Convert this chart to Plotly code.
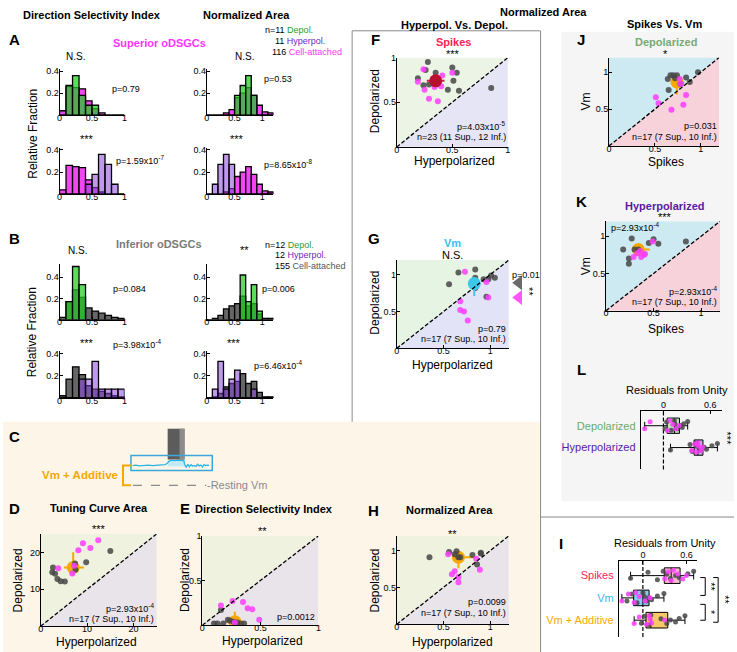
import plotly.graph_objects as go

W, H = 737, 652
FONT = "Liberation Sans, Arial, Helvetica, sans-serif"

# ---------------- DATA ----------------
dsi_bins = [0.05, 0.15, 0.25, 0.35, 0.45, 0.55, 0.65, 0.75, 0.85, 0.95]
na_bins = [0.05, 0.15, 0.25, 0.35, 0.45, 0.55, 0.65, 0.75, 0.85, 0.95, 1.05, 1.15]

# Superior oDSGCs (A)
a_dsi_cell = [0.04, 0.26, 0.25, 0.24, 0.13, 0.06, 0.02, 0, 0, 0]
a_dsi_depol = [0, 0.27, 0.36, 0.18, 0.09, 0.09, 0, 0, 0, 0]
a_dsi_hyper = [0, 0, 0, 0, 0.09, 0.18, 0.36, 0.27, 0.09, 0]
a_na_cell = [0, 0, 0, 0.02, 0.05, 0.16, 0.20, 0.25, 0.18, 0.09, 0.03, 0.02]
a_na_depol = [0, 0, 0, 0, 0, 0.18, 0.27, 0.36, 0.18, 0, 0, 0]
a_na_hyper = [0, 0.09, 0.27, 0.36, 0.27, 0, 0, 0, 0, 0, 0, 0]
# Inferior oDSGCs (B)
b_dsi_cell = [0.02, 0.17, 0.28, 0.21, 0.11, 0.08, 0.06, 0.04, 0.02, 0.01]
b_dsi_depol = [0, 0.17, 0.50, 0.33, 0, 0, 0, 0, 0, 0]
b_dsi_hyper = [0, 0, 0, 0.17, 0.17, 0.33, 0.08, 0.08, 0.08, 0.08]
b_na_cell = [0, 0.01, 0.04, 0.10, 0.13, 0.15, 0.22, 0.13, 0.15, 0.05, 0.01, 0.01]
b_na_depol = [0, 0, 0, 0, 0, 0, 0.42, 0.17, 0.33, 0.08, 0, 0]
b_na_hyper = [0, 0.08, 0.33, 0.08, 0.17, 0.25, 0, 0, 0.08, 0, 0, 0]
# population means (arrow heads above histograms)
a_dsi_top_means = [0.27, 0.23]      # cell-attached, depol
a_dsi_bot_means = [0.25, 0.65]      # cell-attached, hyperpol
a_na_top_means = [0.70, 0.71]
a_na_bot_means = [0.72, 0.38]
b_dsi_top_means = [0.33, 0.28]
b_dsi_bot_means = [0.32, 0.54]
b_na_top_means = [0.62, 0.74]
b_na_bot_means = [0.62, 0.40]

# D  tuning curve area
d_inf_x = [2.65, 2.5, 3.1, 3.6, 4.3, 5.2, 7.4, 7.5, 9.8, 15.0]
d_inf_y = [15.9, 14.6, 14.2, 12.8, 12.2, 12.1, 17.0, 15.3, 17.3, 20.4]
d_sup_x = [3.8, 6.8, 7.2, 8.1, 9.1, 10.7, 12.4]
d_sup_y = [15.7, 14.3, 16.4, 20.6, 22.5, 21.2, 23.3]
d_mean = [7.0, 15.9]
d_err = [2.0, 2.3, 2.2, 4.1]   # x-, x+, y-, y+
# E  DSI
e_inf_x = [0.10, 0.13, 0.16, 0.22, 0.24, 0.36, 0.33, 0.18, 0.30, 0.27]
e_inf_y = [0.02, 0.02, 0.17, 0.06, 0.05, 0.02, 0.02, 0.02, 0.03, 0.04]
e_sup_x = [0.16, 0.26, 0.35, 0.39, 0.43, 0.49, 0.28]
e_sup_y = [0.22, 0.27, 0.26, 0.19, 0.18, 0.06, 0.03]
e_mean = [0.28, 0.04]
e_err = [0.08, 0.08, 0.03, 0.11]
# F  spikes
f_inf_x = [0.28, 0.26, 0.19, 0.35, 0.50, 0.54, 0.51, 0.46, 0.56, 0.24, 0.29, 0.85]
f_inf_y = [0.95, 0.86, 0.77, 0.83, 0.89, 0.83, 0.74, 0.64, 0.63, 0.69, 0.70, 0.66]
f_sup_x = [0.24, 0.19, 0.25, 0.29, 0.37, 0.34, 0.40, 0.41, 0.50, 0.33, 0.38]
f_sup_y = [0.87, 0.73, 0.64, 0.54, 0.51, 0.67, 0.68, 0.80, 0.83, 0.76, 0.72]
f_mean = [0.35, 0.74]
f_err = [0.08, 0.08, 0.04, 0.04]
# G  Vm
g_inf_x = [0.56, 0.66, 0.84, 0.84, 0.84, 0.98, 1.01, 1.05, 0.96, 0.93]
g_inf_y = [0.87, 1.03, 1.07, 0.96, 0.82, 0.94, 0.99, 0.96, 0.70, 0.94]
g_sup_x = [0.73, 0.68, 0.68, 0.72, 0.76, 0.96, 0.98]
g_sup_y = [1.04, 0.64, 0.52, 0.50, 0.38, 0.90, 0.69]
g_mean = [0.83, 0.88]
g_err = [0.06, 0.06, 0.17, 0.08]
g_side_y = [0.89, 0.69]   # inferior, superior mean Vm ratio (side arrows)
# H  normalized area (Vm + additive)
h_inf_x = [0.35, 0.56, 0.64, 0.62, 0.68, 0.81, 0.90, 0.86, 0.90, 0.66]
h_inf_y = [0.91, 0.98, 0.99, 0.95, 0.91, 0.94, 0.96, 0.81, 0.97, 0.91]
h_sup_x = [0.55, 0.59, 0.62, 0.66, 0.66, 0.85, 0.89]
h_sup_y = [0.95, 0.68, 0.72, 0.64, 0.57, 0.89, 0.74]
h_mean = [0.66, 0.91]
h_err = [0.03, 0.18, 0.15, 0.03]
# J  depolarized spikes vs Vm
j_inf_x = [0.64, 0.67, 0.70, 0.74, 0.84, 0.88, 0.97, 0.65, 0.78, 0.72]
j_inf_y = [0.91, 0.96, 0.96, 0.96, 0.93, 0.87, 1.00, 0.76, 0.84, 0.92]
j_sup_x = [0.51, 0.54, 0.68, 0.81, 0.84, 0.77, 0.78]
j_sup_y = [0.66, 0.58, 0.49, 0.56, 0.69, 0.91, 0.84]
j_mean = [0.74, 0.87]
j_err = [0.04, 0.08, 0.17, 0.04]
# K  hyperpolarized spikes vs Vm
k_inf_x = [0.18, 0.27, 0.34, 0.24, 0.24, 0.45, 0.50, 0.55, 0.84, 0.30]
k_inf_y = [0.82, 0.97, 0.82, 0.70, 0.63, 0.91, 0.96, 0.90, 0.93, 0.82]
k_sup_x = [0.29, 0.37, 0.41, 0.33, 0.49, 0.36, 0.40]
k_sup_y = [0.72, 0.72, 0.76, 0.77, 0.93, 0.80, 0.75]
k_mean = [0.34, 0.82]
k_err = [0.05, 0.12, 0.05, 0.05]

# L residuals
l_cats = ["Depolarized", "Hyperpolarized"]
l_sup = [[-0.24, -0.17, 0.05, 0.12, 0.16, 0.20, 0.08],
         [0.36, 0.40, 0.42, 0.45, 0.48, 0.44, 0.50]]
l_inf = [[0.04, 0.10, 0.14, 0.18, 0.22, 0.26, 0.31, 0.15, 0.02, 0.24],
         [0.09, 0.34, 0.37, 0.41, 0.46, 0.52, 0.55, 0.62, 0.69, 0.43]]
# I residuals
i_cats = ["Spikes", "Vm", "Vm + Additive"]
i_sup = [[0.30, 0.35, 0.39, 0.42, 0.48, 0.55, 0.60],
         [-0.29, -0.20, -0.12, -0.05, 0.03, 0.10, -0.10],
         [-0.12, -0.05, 0.05, 0.10, 0.09, 0.30, 0.12]]
i_inf = [[-0.17, 0.07, 0.20, 0.28, 0.33, 0.38, 0.45, 0.50, 0.62, 0.70],
         [-0.22, -0.15, -0.08, 0.00, 0.02, 0.05, 0.08, 0.12, 0.20, 0.29],
         [-0.02, 0.02, 0.08, 0.11, 0.25, 0.33, 0.38, 0.45, 0.50, 0.58]]

# C schematic membrane trace
c_t = [2, 6, 10, 14, 18, 22, 26, 30, 34, 38, 42, 45, 47, 50, 54, 58, 62, 65,
       66, 68, 70, 72, 74, 76, 78, 80, 82, 84, 86, 88, 90, 92, 94, 96]
c_v = [1.3, 1.4, 1.25, 1.35, 1.3, 1.4, 1.3, 1.35, 1.25, 1.4, 1.5, 1.9, 2.3, 2.5, 2.4, 2.5, 2.45, 2.4,
       1.6, 0.9, 1.6, 1.0, 1.5, 1.2, 1.3, 1.1, 1.6, 1.2, 1.4, 1.0, 1.5, 1.3, 1.4, 1.35]

# ---------------- STYLE ----------------
MAG = 'rgba(240,50,240,0.9)'
GRY = 'rgba(85,85,85,0.9)'
GRN = 'rgba(30,205,30,0.72)'
PUR = 'rgba(140,70,220,0.55)'
PT_GRAY = 'rgba(70,70,70,0.85)'
PT_MAG = 'rgba(255,60,255,0.85)'
ORANGE = '#f6a800'
DIAG_DASH = '4px,2px'


def X(p):
    return p / W


def Y(p):
    return 1 - p / H


fig = go.Figure()
layout = dict(width=W, height=H, margin=dict(l=0, r=0, t=0, b=0), paper_bgcolor='white',
              plot_bgcolor='rgba(0,0,0,0)', showlegend=False, barmode='overlay', boxmode='overlay',
              font=dict(family=FONT, size=10, color='black'))
shapes = []
annotations = []
nax = [0]


def axes(x0, x1, y0, y1, xr, yr, xtv=None, xtt=None, ytv=None, ytt=None, visible=True,
         xside='bottom', ycat=None, tfs=9, ytfs=9):
    nax[0] += 1
    n = nax[0]
    s = '' if n == 1 else str(n)
    common = dict(showgrid=False, zeroline=False, showline=visible, linecolor='black', linewidth=1,
                  ticks='inside' if visible else '', ticklen=3, tickcolor='black', visible=visible,
                  fixedrange=True)
    xa = dict(domain=[X(x0), X(x1)], range=xr, anchor='y' + s, side=xside,
              tickfont=dict(size=tfs, family=FONT),
              ticklabelstandoff=(-6 if xside == 'bottom' else -2), **common)
    if xtv is not None:
        xa.update(tickmode='array', tickvals=xtv, ticktext=xtt)
    ya = dict(domain=[Y(y1), Y(y0)], range=yr, anchor='x' + s, tickfont=dict(size=ytfs, family=FONT),
              ticklabelstandoff=-2, **common)
    if ycat is not None:
        ya.update(type='category', categoryorder='array', categoryarray=ycat, ticks='', ticklabelstandoff=2)
    if ytv is not None:
        ya.update(tickmode='array', tickvals=ytv, ticktext=ytt)
    layout['xaxis' + s] = xa
    layout['yaxis' + s] = ya
    return 'x' + s, 'y' + s


def txt(s, x, y, size=9, color='black', bold=False, xa='center', angle=0, ya='middle'):
    if bold:
        s = '<b>' + s + '</b>'
    annotations.append(dict(text=s, x=X(x), y=Y(y), xref='paper', yref='paper', showarrow=False,
                            xanchor=xa, yanchor=ya, textangle=angle, borderpad=0,
                            font=dict(size=size, color=color, family=FONT)))


def rect(x0, y0, x1, y1, fill, line=None, layer='below'):
    shapes.append(dict(type='rect', xref='paper', yref='paper', x0=X(x0), x1=X(x1), y0=Y(y1), y1=Y(y0),
                       fillcolor=fill, line=line if line else dict(width=0), layer=layer))


def pline(pts, color='#8a8a8a', width=1, dash=None, layer='above'):
    path = 'M ' + ' L '.join(f'{X(a):.5f},{Y(b):.5f}' for a, b in pts)
    ln = dict(color=color, width=width)
    if dash:
        ln['dash'] = dash
    shapes.append(dict(type='path', xref='paper', yref='paper', path=path, line=ln, layer=layer))


# ---------------- BACKGROUND REGIONS ----------------
rect(0, 420, 542, 652, '#fdf5e8')
rect(563, 27, 737, 500, '#f5f5f5')
pline([(352, 420), (352, 26), (542, 26), (542, 652)])
pline([(542, 516), (737, 516)])

# ---------------- HISTOGRAMS ----------------
DSI_X = (57, 122.5, [0, 1])
NA_X = (205.5, 272.7, [0, 1.2])
xt = dict(xtv=[0, 0.5, 1], xtt=['0', '0.5', '1'], ytv=[0.2, 0.4], ytt=['0.2', '0.4'])


def hist(col, y0, y1, ymax, bins, base, over, base_col, over_col, means, mcols, mark_y):
    xdef = DSI_X if col == 'dsi' else NA_X
    xr, yr = axes(xdef[0], xdef[1], y0, y1, xdef[2], [0, ymax], **xt)
    fig.add_trace(go.Bar(x=bins, y=base, width=0.1, xaxis=xr, yaxis=yr,
                         marker=dict(color=base_col, line=dict(color='black', width=1.3))))
    fig.add_trace(go.Bar(x=bins, y=over, width=0.1, xaxis=xr, yaxis=yr,
                         marker=dict(color=over_col, line=dict(color='black', width=1.3))))
    fig.add_trace(go.Scatter(x=means, y=[mark_y] * len(means), xaxis=xr, yaxis=yr, mode='markers',
                             cliponaxis=False,
                             marker=dict(symbol='triangle-down', size=9, color=mcols, line=dict(width=0))))


hist('dsi', 64.5, 111, 0.42, dsi_bins, a_dsi_cell, a_dsi_depol, MAG, GRN, a_dsi_top_means,
     ['rgba(240,80,240,0.9)', 'rgba(60,170,60,0.9)'], 0.455)
hist('na', 64.5, 111, 0.42, na_bins, a_na_cell, a_na_depol, MAG, GRN, a_na_top_means,
     ['rgba(240,80,240,0.9)', 'rgba(60,170,60,0.9)'], 0.455)
hist('dsi', 143.8, 190.7, 0.42, dsi_bins, a_dsi_cell, a_dsi_hyper, MAG, PUR, a_dsi_bot_means,
     ['rgba(245,90,245,0.9)', 'rgba(180,130,235,0.95)'], 0.44)
hist('na', 143.8, 190.7, 0.42, na_bins, a_na_cell, a_na_hyper, MAG, PUR, a_na_bot_means,
     ['rgba(245,90,245,0.9)', 'rgba(180,130,235,0.95)'], 0.44)
hist('dsi', 261.4, 317, 0.52, dsi_bins, b_dsi_cell, b_dsi_depol, GRY, GRN, b_dsi_top_means,
     ['rgba(90,90,90,0.9)', 'rgba(80,230,80,0.9)'], 0.56)
hist('na', 261.4, 317, 0.52, na_bins, b_na_cell, b_na_depol, GRY, GRN, b_na_top_means,
     ['rgba(90,90,90,0.9)', 'rgba(80,230,80,0.9)'], 0.56)
hist('dsi', 349, 396, 0.42, dsi_bins, b_dsi_cell, b_dsi_hyper, GRY, PUR, b_dsi_bot_means,
     ['rgba(90,90,90,0.9)', 'rgba(180,130,235,0.95)'], 0.44)
hist('na', 349, 396, 0.42, na_bins, b_na_cell, b_na_hyper, GRY, PUR, b_na_bot_means,
     ['rgba(90,90,90,0.9)', 'rgba(180,130,235,0.95)'], 0.44)

# histogram texts
txt('Direction Selectivity Index', 90, 10, 11, bold=True)
txt('Normalized Area', 246, 10, 11, bold=True)
txt('A', 12, 35, 15, bold=True)
txt('Superior oDSGCs', 158, 38, 11, '#ff33ff', bold=True)
txt('B', 12, 235, 15, bold=True)
txt('Inferior oDSGCs', 157, 241, 11, '#7a7a7a', bold=True)
txt('Relative Fraction', 30, 130, 12, angle=-90)
txt('Relative Fraction', 30, 330, 12, angle=-90)
txt('N.S.', 73, 52, 10)
txt('p=0.79', 109, 85, 9, xa='left')
txt('***', 85, 135, 11)
txt('p=1.59x10<sup>-7</sup>', 113, 156, 9, xa='left')
txt('N.S.', 243, 52, 10)
txt('p=0.53', 262, 75, 9, xa='left')
txt('***', 236, 135, 11)
txt('p=8.65x10<sup>-8</sup>', 262, 160, 9, xa='left')
txt("n=11 <span style='color:#2a9a2a'>Depol.</span>", 263, 25, 9, xa='left')
txt("11 <span style='color:#6a2ac0'>Hyperpol.</span>", 273, 36, 9, xa='left')
txt("116 <span style='color:#ff33ff'>Cell-attached</span>", 270, 47, 9, xa='left')
txt('N.S.', 75, 247, 10)
txt('p=0.084', 110, 286, 9, xa='left')
txt('***', 85, 341, 11)
txt('p=3.98x10<sup>-4</sup>', 110, 342, 9, xa='left')
txt('**', 243, 247, 11)
txt('p=0.006', 260, 286, 9, xa='left')
txt('***', 233, 341, 11)
txt('p=6.46x10<sup>-4</sup>', 252, 363, 9, xa='left')
txt("n=12 <span style='color:#2a9a2a'>Depol.</span>", 263, 242, 9, xa='left')
txt("12 <span style='color:#6a2ac0'>Hyperpol.</span>", 273, 252, 9, xa='left')
txt("155 <span style='color:#555555'>Cell-attached</span>", 273, 263, 9, xa='left')

# ---------------- C schematic ----------------
xr, yr = axes(129, 211, 425, 470, [0, 100], [0, 10], visible=False)
rect(166, 427, 183, 458, '#5c5c5c', layer='above')
rect(178, 427, 183, 458, '#8c8c8c', layer='above')
rect(166, 459, 183, 465, '#c3ebf7', layer='below')
fig.add_trace(go.Scatter(x=c_t, y=c_v, xaxis=xr, yaxis=yr, mode='lines',
                         line=dict(color='#27b5e8', width=1.3)))
rect(129, 454, 211, 469, 'rgba(0,0,0,0)', line=dict(color='#3aa8d8', width=1.5), layer='above')
pline([(129, 464), (121, 464), (121, 484), (129, 484)], color=ORANGE, width=2)
pline([(131, 484), (205, 484)], color='#8a8a8a', width=1.2, dash='dash')
txt('-Resting Vm', 205, 484, 11, '#8a8a8a', xa='left')
txt('Vm + Additive', 117, 474, 11.5, ORANGE, bold=True, xa='right')
txt('C', 12, 435, 15, bold=True)


# ---------------- SCATTER PANELS ----------------
def scatter_panel(x0, x1, y0, y1, vmax, ticks, tt, upper, lower, ix, iy, sx, sy, mean, err,
                  mcol, ecol, mean_on_top, msize=13):
    xr, yr = axes(x0, x1, y0, y1, [0, vmax], [0, vmax], xtv=ticks, xtt=tt, ytv=ticks[1:], ytt=tt[1:])
    shapes.append(dict(type='path', xref=xr, yref=yr, path=f'M 0,0 L 0,{vmax} L {vmax},{vmax} Z',
                       fillcolor=upper, line=dict(width=0), layer='below'))
    shapes.append(dict(type='path', xref=xr, yref=yr, path=f'M 0,0 L {vmax},0 L {vmax},{vmax} Z',
                       fillcolor=lower, line=dict(width=0), layer='below'))
    shapes.append(dict(type='line', xref=xr, yref=yr, x0=0, y0=0, x1=vmax, y1=vmax,
                       line=dict(color='black', width=1.3, dash=DIAG_DASH), layer='above'))
    mtrace = go.Scatter(x=[mean[0]], y=[mean[1]], xaxis=xr, yaxis=yr, mode='markers',
                        marker=dict(size=msize, color=mcol),
                        error_x=dict(type='data', symmetric=False, arrayminus=[err[0]], array=[err[1]],
                                     color=ecol, thickness=2, width=0),
                        error_y=dict(type='data', symmetric=False, arrayminus=[err[2]], array=[err[3]],
                                     color=ecol, thickness=2, width=0))
    if not mean_on_top:
        fig.add_trace(mtrace)
    fig.add_trace(go.Scatter(x=ix, y=iy, xaxis=xr, yaxis=yr, mode='markers',
                             marker=dict(size=6, color=PT_GRAY)))
    fig.add_trace(go.Scatter(x=sx, y=sy, xaxis=xr, yaxis=yr, mode='markers',
                             marker=dict(size=6, color=PT_MAG)))
    if mean_on_top:
        fig.add_trace(mtrace)
    return xr, yr


BEIGE_UP, BEIGE_LO = '#eef2df', '#e9e3ea'
scatter_panel(38, 155, 533, 626, 25, [0, 10, 20], ['0', '10', '20'], BEIGE_UP, BEIGE_LO,
              d_inf_x, d_inf_y, d_sup_x, d_sup_y, d_mean, d_err, ORANGE, ORANGE, False)
scatter_panel(201, 318, 535, 625, 1, [0, 0.5, 1], ['0', '0.5', '1'], BEIGE_UP, BEIGE_LO,
              e_inf_x, e_inf_y, e_sup_x, e_sup_y, e_mean, e_err, ORANGE, ORANGE, False)
scatter_panel(397, 509, 53, 143, 1, [0, 0.5, 1], ['0', '0.5', '1'], '#ecf5e5', '#e6e5f5',
              f_inf_x, f_inf_y, f_sup_x, f_sup_y, f_mean, f_err, '#b8102e', '#d0204a', True)
scatter_panel(397, 510, 257, 346, 1.2, [0, 0.5, 1], ['0', '0.5', '1'], '#e6f4e4', '#e3e3f7',
              g_inf_x, g_inf_y, g_sup_x, g_sup_y, g_mean, g_err, '#3cc8ec', '#3cc8ec', True)
# side arrows of panel G on their own (hidden) axes sharing G's vertical scale
sx_, sy_ = axes(512, 528, 257, 346, [0, 1], [0, 1.2], visible=False)
fig.add_trace(go.Scatter(x=[0.5, 0.5], y=g_side_y, xaxis=sx_, yaxis=sy_, mode='markers',
                         marker=dict(symbol='triangle-left', size=13,
                                     color=['#6a6a6a', '#ff55ff'])))
scatter_panel(397, 510, 535, 624, 1.2, [0, 0.5, 1], ['0', '0.5', '1'], BEIGE_UP, BEIGE_LO,
              h_inf_x, h_inf_y, h_sup_x, h_sup_y, h_mean, h_err, ORANGE, ORANGE, False)
scatter_panel(611, 722, 53, 142, 1.2, [0, 0.5, 1], ['0', '0.5', '1'], '#cde9f2', '#f7d2da',
              j_inf_x, j_inf_y, j_sup_x, j_sup_y, j_mean, j_err, ORANGE, ORANGE, False)
scatter_panel(608, 723, 218, 308, 1.2, [0, 0.5, 1], ['0', '0.5', '1'], '#cde9f2', '#f7d2da',
              k_inf_x, k_inf_y, k_sup_x, k_sup_y, k_mean, k_err, ORANGE, ORANGE, False)

# scatter texts
txt('D', 12, 507, 15, bold=True)
txt('Tuning Curve Area', 97, 507, 11, bold=True)
txt('***', 97, 528, 11)
txt('Depolarized', 15, 580, 12, angle=-90)
txt('Hyperpolarized', 94, 642, 12)
txt('p=2.93x10<sup>-4</sup>', 153, 608, 9, xa='right')
txt('n=17 (7 Sup., 10 Inf.)', 153, 619, 9, xa='right')

txt('E', 183, 507, 15, bold=True)
txt('Direction Selectivity Index', 263, 508, 11, bold=True)
txt('**', 262, 530, 11)
txt('Depolarized', 183, 580, 12, angle=-90)
txt('Hyperpolarized', 262, 641, 12)
txt('p=0.0012', 316, 617, 9, xa='right')

txt('Normalized Area', 545, 7, 11, bold=True)
txt('Hyperpol. Vs. Depol.', 455, 20, 11, bold=True)
txt('F', 376, 35, 15, bold=True)
txt('Spikes', 454, 37, 11, '#ff2255', bold=True)
txt('***', 454, 49, 11)
txt('Depolarized', 375, 97, 12, angle=-90)
txt('Hyperpolarized', 455, 157, 12)
txt('p=4.03x10<sup>-5</sup>', 507, 122, 9, xa='right')
txt('n=23 (11 Sup., 12 Inf.)', 508, 133, 9, xa='right')

txt('G', 374, 235, 15, bold=True)
txt('Vm', 453, 240, 11, '#33c4ee', bold=True)
txt('N.S.', 453, 252, 11)
txt('Depolarized', 375, 300, 12, angle=-90)
txt('Hyperpolarized', 453, 363, 12)
txt('p=0.79', 508, 327, 9, xa='right')
txt('n=17 (7 Sup., 10 Inf.)', 508, 337, 9, xa='right')
txt('p=0.01', 512, 272, 9, xa='left')
txt('**', 531, 289, 11, angle=90)

txt('H', 374, 509, 15, bold=True)
txt('Normalized Area', 450, 509, 11, bold=True)
txt('**', 453, 533, 11)
txt('Depolarized', 375, 580, 12, angle=-90)
txt('Hyperpolarized', 453, 642, 12)
txt('p=0.0099', 508, 602, 9, xa='right')
txt('n=17 (7 Sup., 10 Inf.)', 508, 613, 9, xa='right')

txt('Spikes Vs. Vm', 667, 19, 11, bold=True)
txt('J', 583, 35, 15, bold=True)
txt('Depolarized', 668, 37, 11, '#77aa77', bold=True)
txt('*', 668, 49, 11)
txt('Vm', 588, 97, 12, angle=-90)
txt('Spikes', 668, 158, 12)
txt('p=0.031', 721, 122, 9, xa='right')
txt('n=17 (7 Sup., 10 Inf.)', 721, 133, 9, xa='right')

txt('K', 583, 198, 15, bold=True)
txt('Hyperpolarized', 667, 203, 11, '#5a1aa0', bold=True)
txt('***', 667, 214, 11)
txt('Vm', 588, 263, 12, angle=-90)
txt('Spikes', 668, 326, 12)
txt('p=2.93x10<sup>-4</sup>', 612, 224, 9, xa='left')
txt('p=2.93x10<sup>-4</sup>', 721, 288, 9, xa='right')
txt('n=17 (7 Sup., 10 Inf.)', 721, 299, 9, xa='right')


# ---------------- BOX PANELS ----------------
def box_panel(x0, x1, y0, y1, xr_, yr_, cats, ctext, sup, inf, fills):
    xr, yr = axes(x0, x1, y0, y1, xr_, yr_, xtv=[0, 0.6], xtt=['0', '0.6'], xside='top',
                  ycat=cats, ytfs=11)
    layout['yaxis' + xr[1:]].update(tickmode='array', tickvals=cats, ticktext=ctext)
    shapes.append(dict(type='line', xref=xr, yref=yr + ' domain', x0=0, x1=0, y0=0, y1=1,
                       line=dict(color='black', width=1.2, dash=DIAG_DASH), layer='below'))
    for c, s, i, f in zip(cats, sup, inf, fills):
        allv = s + i
        fig.add_trace(go.Box(x=allv, y=[c] * len(allv), orientation='h', xaxis=xr, yaxis=yr,
                             boxpoints=False, fillcolor=f, line=dict(color='black', width=1),
                             width=0.7, whiskerwidth=0.5))
        fig.add_trace(go.Box(x=i, y=[c] * len(i), orientation='h', xaxis=xr, yaxis=yr,
                             boxpoints='all', jitter=0.8, pointpos=0, width=0.7,
                             marker=dict(color=PT_GRAY, size=5),
                             line=dict(color='rgba(0,0,0,0)', width=0), fillcolor='rgba(0,0,0,0)'))
        fig.add_trace(go.Box(x=s, y=[c] * len(s), orientation='h', xaxis=xr, yaxis=yr,
                             boxpoints='all', jitter=0.8, pointpos=0, width=0.7,
                             marker=dict(color=PT_MAG, size=5),
                             line=dict(color='rgba(0,0,0,0)', width=0), fillcolor='rgba(0,0,0,0)'))


box_panel(643, 725, 409, 468, [-0.29, 0.75], [2.0, -0.68], l_cats,
          ["<span style='color:#6aaa6a'>Depolarized</span>",
           "<span style='color:#5a1aa0'>Hyperpolarized</span>"],
          l_sup, l_inf, ['#bfe3b8', '#c9a9ea'])
txt('L', 583, 367, 15, bold=True)
txt('Residuals from Unity', 680, 388, 11)
txt('***', 730, 437, 11, angle=90)

box_panel(621, 700, 560, 637, [-0.33, 0.75], [2.76, -0.67], i_cats,
          ["<span style='color:#ff2255'>Spikes</span>",
           "<span style='color:#33bbee'>Vm</span>",
           "<span style='color:#f5a800'>Vm + Additive</span>"],
          i_sup, i_inf, ['#f7bccb', '#86c9ea', '#f6c964'])
txt('I', 563, 543, 15, bold=True)
txt('Residuals from Unity', 667, 542, 11)
pline([(703, 577), (708, 577), (708, 595), (703, 595)], color='black', width=1)
pline([(703, 604), (708, 604), (708, 620), (703, 620)], color='black', width=1)
pline([(716, 577), (721, 577), (721, 622), (716, 622)], color='black', width=1)
txt('**', 714, 586, 11, angle=90)
txt('*', 714, 612, 11, angle=90)
txt('**', 728, 599, 11, angle=90)

layout['shapes'] = shapes
layout['annotations'] = annotations
fig.update_layout(**layout)
fig.write_html("out.html", config={'displayModeBar': False},
               post_script="document.body.style.margin='0';document.body.style.overflow='hidden';")
